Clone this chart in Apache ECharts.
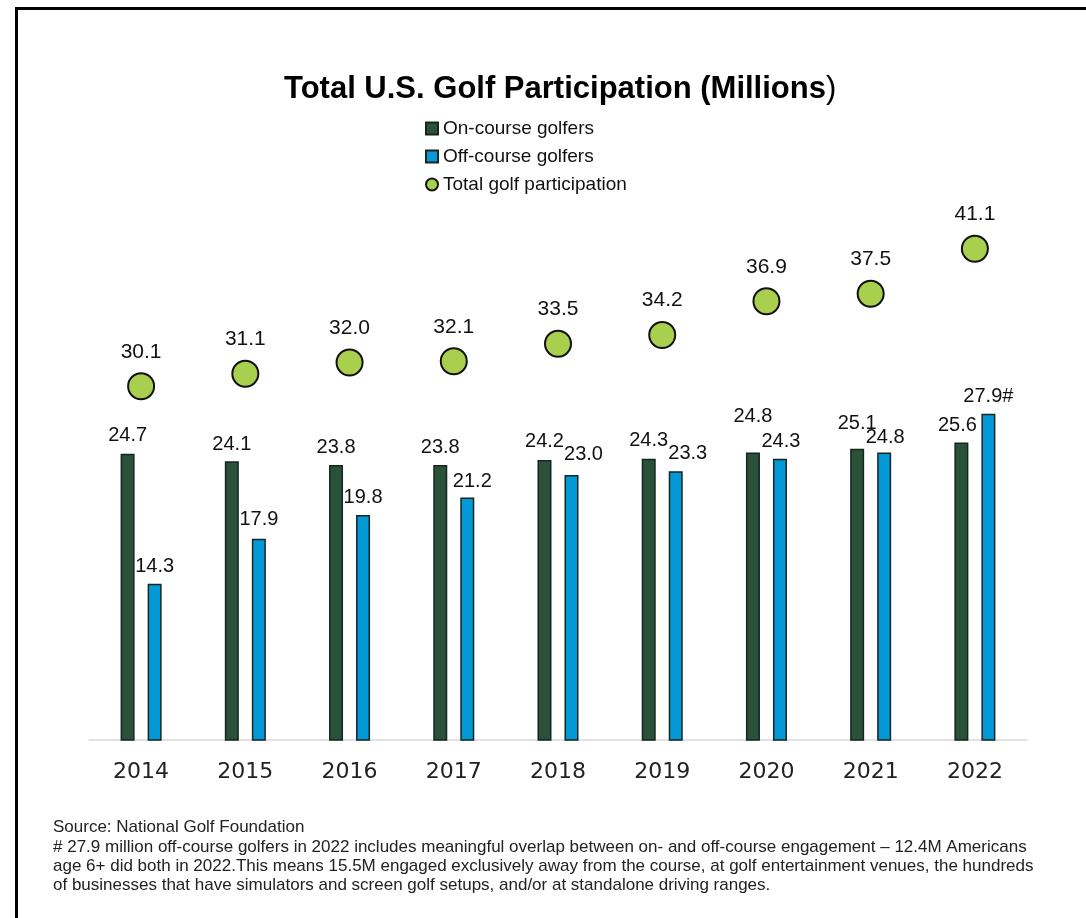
<!DOCTYPE html>
<html>
<head>
<meta charset="utf-8">
<script src="https://cdn.jsdelivr.net/npm/echarts@6/dist/echarts.min.js"></script>
<style>
  html, body { margin: 0; padding: 0; background: #fff; }
  #wrap { position: relative; width: 1086px; height: 918px; overflow: hidden; background: #fff; }
  #frame { position: absolute; left: 15px; top: 7px; width: 1200px; height: 1000px; border-left: 3px solid #000; border-top: 3px solid #000; }
  #chart { position: absolute; left: 0; top: 0; width: 1086px; height: 918px; }
</style>
</head>
<body>
<div id="wrap"><div id="frame"></div><div id="chart"></div></div>
<script>
// ---- data ----
const years = ['2014', '2015', '2016', '2017', '2018', '2019', '2020', '2021', '2022'];
const onCourse = [24.7, 24.1, 23.8, 23.8, 24.2, 24.3, 24.8, 25.1, 25.6];
const offCourse = [14.3, 17.9, 19.8, 21.2, 23.0, 23.3, 24.3, 24.8, 27.9];
const offCourseLabels = ['14.3', '17.9', '19.8', '21.2', '23.0', '23.3', '24.3', '24.8', '27.9#'];
const totalGolf = [30.1, 31.1, 32.0, 32.1, 33.5, 34.2, 36.9, 37.5, 41.1];
const seriesNames = ['On-course golfers', 'Off-course golfers', 'Total golf participation'];

// ---- label layout tweaks (pixels), kept apart from the data ----
const onLabelShift = [[0,0],[0,1],[0,0],[0,0],[0,-1],[0,0],[0,-18],[0,-7],[-4,1]];
const offLabelShift = [[0,1],[0,-1],[0,0],[5,2],[12,-3],[12,0],[1,1],[1,3],[0,1]];

const labelFont = '"Liberation Sans", Arial, sans-serif';

const chart = echarts.init(document.getElementById('chart'), null, { renderer: 'canvas' });

const onData = onCourse.map((v, i) => ({ value: v, label: { offset: onLabelShift[i] } }));
const offData = offCourse.map((v, i) => ({ value: v, label: { offset: offLabelShift[i], formatter: offCourseLabels[i] } }));

chart.setOption({
  animation: false,
  backgroundColor: 'transparent',
  graphic: [
    {
      type: 'text',
      left: 284, top: 74,
      style: {
        text: '{b|Total U.S. Golf Participation (Millions}{n|)}',
        rich: {
          b: { fontFamily: labelFont, fontSize: 31, fontWeight: 'bold', fill: '#000' },
          n: { fontFamily: labelFont, fontSize: 31, fontWeight: 'normal', fill: '#000' }
        }
      }
    },
    {
      type: 'text',
      left: 53, top: 818,
      style: {
        text: 'Source: National Golf Foundation\n' +
              '# 27.9 million off-course golfers in 2022 includes meaningful overlap between on- and off-course engagement \u2013 12.4M Americans\n' +
              'age 6+ did both in 2022.This means 15.5M engaged exclusively away from the course, at golf entertainment venues, the hundreds\n' +
              'of businesses that have simulators and screen golf setups, and/or at standalone driving ranges.',
        fontFamily: labelFont, fontSize: 17, lineHeight: 19.3, fill: '#222'
      }
    }
  ],
  legend: {
    orient: 'vertical',
    left: 425, top: 119, padding: 0,
    itemWidth: 12, itemHeight: 12, itemGap: 9, itemTextGap: 4,
    textStyle: { fontFamily: labelFont, fontSize: 19, color: '#111' },
    data: [
      { name: seriesNames[0], icon: 'rect' },
      { name: seriesNames[1], icon: 'rect' },
      { name: seriesNames[2], icon: 'circle' }
    ]
  },
  grid: { left: 89, right: 59, top: 137.5, bottom: 178 },
  xAxis: {
    type: 'category',
    data: years,
    axisLine: { onZero: false, lineStyle: { color: '#d9d9d9', width: 1.5 } },
    axisTick: { show: false },
    axisLabel: { margin: 21, fontFamily: '"DejaVu Sans", sans-serif', fontSize: 22, color: '#222' }
  },
  yAxis: {
    type: 'value', min: 1.8, max: 50, show: false,
    splitLine: { show: false }
  },
  series: [
    {
      name: seriesNames[0], type: 'bar', data: onData,
      barWidth: 14, barGap: '93%', clip: true,
      itemStyle: { color: '#2a5238', borderColor: '#16251f', borderWidth: 1.5 },
      label: { show: true, position: 'top', distance: 8, fontFamily: labelFont, fontSize: 20, color: '#111' }
    },
    {
      name: seriesNames[1], type: 'bar', data: offData,
      barWidth: 14, clip: true,
      itemStyle: { color: '#0399d6', borderColor: '#16251f', borderWidth: 1.5 },
      label: { show: true, position: 'top', distance: 8, fontFamily: labelFont, fontSize: 20, color: '#111' }
    },
    {
      name: seriesNames[2], type: 'scatter', data: totalGolf,
      symbol: 'circle', symbolSize: 26,
      itemStyle: { color: '#a8d04e', borderColor: '#111', borderWidth: 2, opacity: 1 },
      label: { show: true, position: 'top', distance: 10, fontFamily: labelFont, fontSize: 21, color: '#111', formatter: p => p.value.toFixed(1) }
    }
  ]
});
</script>
</body>
</html>
